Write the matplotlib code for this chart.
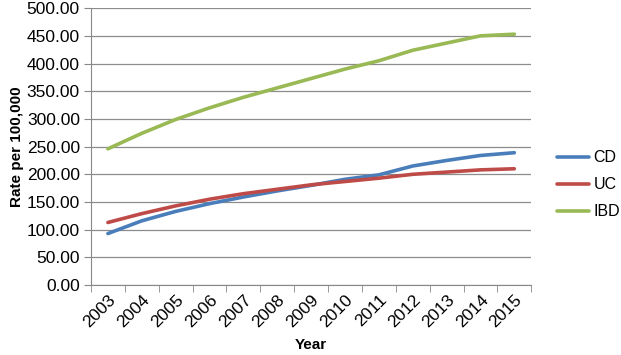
import numpy as np
import matplotlib
matplotlib.use("Agg")
import matplotlib.pyplot as plt

years = ["2003", "2004", "2005", "2006", "2007", "2008", "2009",
         "2010", "2011", "2012", "2013", "2014", "2015"]
cd = [93, 116, 133, 147, 159, 170, 180, 191, 199, 215, 225, 234, 239]
uc = [113, 129, 143, 155, 165, 173, 181, 187, 193, 200, 204, 208, 210]
ibd = [246, 274, 299, 320, 339, 356, 373, 390, 405, 424, 437, 450, 453]

plt.rcParams['font.family'] = ['Liberation Sans', 'DejaVu Sans']

fig = plt.figure(figsize=(6.21, 3.55), dpi=100)
ax = fig.add_axes([0.1465, 0.197, 0.709, 0.78])

x = np.arange(len(years))
style = dict(lw=2.6, solid_joinstyle="round", solid_capstyle="round")
ax.plot(x, cd, color="#4A7EBB", label="CD", **style)
ax.plot(x, uc, color="#BE4B48", label="UC", **style)
ax.plot(x, ibd, color="#98B954", label="IBD", **style)

ax.set_xlim(-0.5, len(years) - 0.5)
ax.set_ylim(0, 500)
ax.set_yticks(np.arange(0, 501, 50))
ax.set_yticklabels([f"{v:.2f}" for v in np.arange(0, 501, 50)], fontsize=12.5)
ax.set_xticks(x)
ax.set_xticklabels(years, rotation=45, fontsize=12.5, ha="right", rotation_mode="anchor")
ax.tick_params(axis="x", length=0, pad=5)
ax.set_xticks(np.arange(-0.5, len(years), 1), minor=True)
ax.tick_params(axis="x", which="minor", length=5, color="#888888")
ax.tick_params(axis="y", length=5, color="#888888", pad=3)

ax.grid(axis="y", color="#8c8c8c", lw=0.9)
ax.set_axisbelow(True)
for s in ["top", "right"]:
    ax.spines[s].set_visible(False)
for s in ["left", "bottom"]:
    ax.spines[s].set_color("#888888")

ax.set_ylabel("Rate per 100,000", fontsize=11, fontweight="bold", labelpad=2)
ax.set_xlabel("Year", fontsize=11, fontweight="bold", labelpad=6)

ax.legend(loc="center left", bbox_to_anchor=(1.058, 0.3615), frameon=False,
          fontsize=11.5, handlelength=2.0, handletextpad=0.3, labelspacing=0.75,
          borderpad=0, borderaxespad=0)

fig.savefig("out.png", dpi=100)
